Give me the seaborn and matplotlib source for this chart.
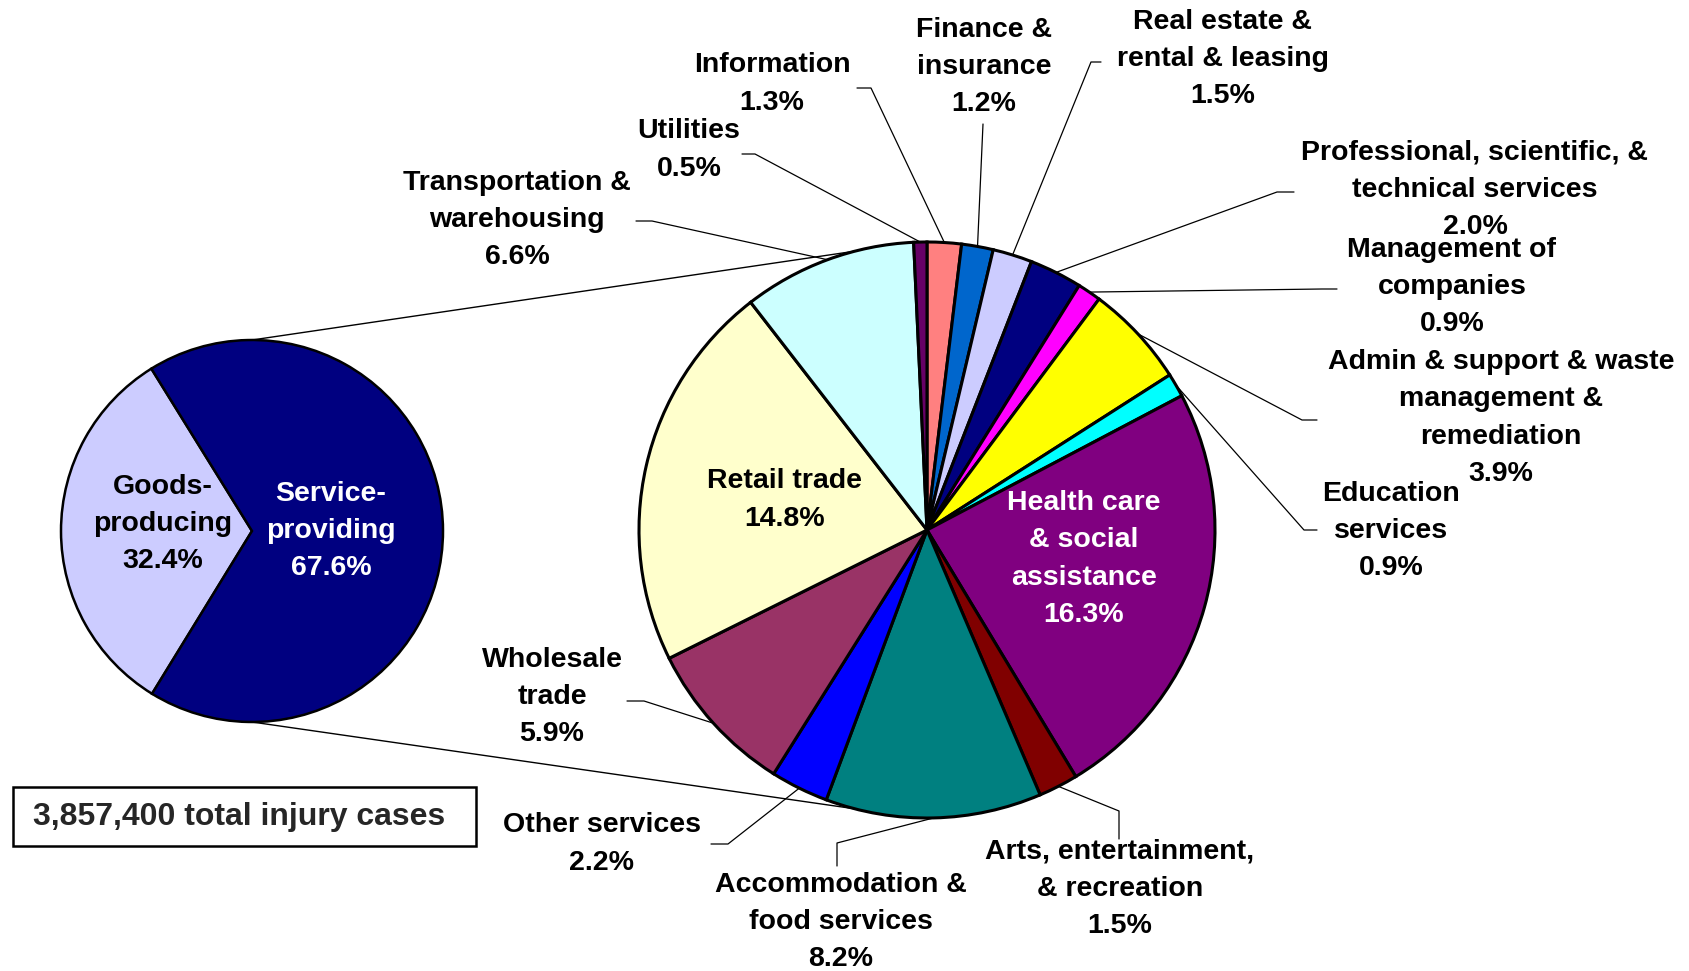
import numpy as np
import matplotlib
matplotlib.use("Agg")
import matplotlib.pyplot as plt
import seaborn as sns
from matplotlib.patches import Rectangle

sns.set_theme(style="white")
plt.rcParams['font.family'] = ['Liberation Sans', 'DejaVu Sans']
plt.rcParams['font.weight'] = 'bold'

# data: share of total injury cases (%)
sector_names = ["Goods-\nproducing", "Service-\nproviding"]
sector_values = [32.4, 67.6]

service_names = [
    "Information", "Finance &\ninsurance", "Real estate &\nrental & leasing",
    "Professional, scientific, &\ntechnical services", "Management of\ncompanies",
    "Admin & support & waste\nmanagement &\nremediation", "Education\nservices",
    "Health care\n& social\nassistance", "Arts, entertainment,\n& recreation",
    "Accommodation &\nfood services", "Other services", "Wholesale\ntrade",
    "Retail trade", "Transportation &\nwarehousing", "Utilities",
]
service_values = [1.3, 1.2, 1.5, 2.0, 0.9, 3.9, 0.9, 16.3, 1.5, 8.2, 2.2, 5.9, 14.8, 6.6, 0.5]
total_cases = "3,857,400 total injury cases"

sector_colors = ["#CCCCFF", "#000080"]
service_colors = ["#FF8080", "#0066CC", "#CCCCFF", "#000080", "#FF00FF", "#FFFF00", "#00FFFF",
                  "#800080", "#800000", "#008080", "#0000FF", "#993366", "#FFFFCC", "#CCFFFF",
                  "#660066"]

W, H = 1690, 971
def Y(y):
    return H - y

fig = plt.figure(figsize=(W / 100, H / 100), dpi=100)
ax = fig.add_axes([0, 0, 1, 1])

c1, r1 = (252, Y(531)), 191
c2, r2 = (927, Y(530)), 288

w1, _ = ax.pie(sector_values, colors=sector_colors, startangle=121.8, center=c1, radius=r1,
               wedgeprops=dict(edgecolor="black", linewidth=1.8))
w2, _ = ax.pie(service_values, colors=service_colors, startangle=90, counterclock=False,
               center=c2, radius=r2, wedgeprops=dict(edgecolor="black", linewidth=2.2))

# lines joining the two pies
for y0, ang in [(c1[1] + r1, 104.5), (c1[1] - r1, 255.5)]:
    a = np.deg2rad(ang)
    ax.plot([c1[0], c2[0] + r2 * np.cos(a)], [y0, c2[1] + r2 * np.sin(a)],
            color="black", lw=1.0, zorder=0)

fs = 20.5
ls = 1.57
ax.text(163, Y(524), sector_names[0] + "\n%.1f%%" % sector_values[0], ha="center", va="center",
        fontsize=fs, fontweight="bold", color="black", linespacing=ls)
ax.text(331, Y(531), sector_names[1] + "\n%.1f%%" % sector_values[1], ha="center", va="center",
        fontsize=fs, fontweight="bold", color="white", linespacing=ls)

# label placement: text centre, leader elbow points (pixels from top-left)
layout = {
    "Information": ((772, 84), [(871, 88), (857, 88)]),
    "Finance &\ninsurance": ((984, 67), [(983, 124)]),
    "Real estate &\nrental & leasing": ((1223, 59), [(1091, 62), (1101, 62)]),
    "Professional, scientific, &\ntechnical services": ((1475, 190), [(1277, 192), (1294, 192)]),
    "Management of\ncompanies": ((1452, 287), [(1322, 289), (1337, 289)]),
    "Admin & support & waste\nmanagement &\nremediation": ((1501, 418), [(1302, 420), (1317, 420)]),
    "Education\nservices": ((1391, 531), [(1304, 530), (1317, 530)]),
    "Health care\n& social\nassistance": ((1084, 559), None),
    "Arts, entertainment,\n& recreation": ((1120, 889), [(1119, 811), (1119, 839)]),
    "Accommodation &\nfood services": ((841, 922), [(837, 843), (837, 866)]),
    "Other services": ((602, 844), [(728, 844), (711, 844)]),
    "Wholesale\ntrade": ((552, 697), [(644, 701), (627, 701)]),
    "Retail trade": ((785, 500), None),
    "Transportation &\nwarehousing": ((517, 220), [(652, 221), (636, 221)]),
    "Utilities": ((689, 150), [(755, 154), (742, 154)]),
}

for wedge, name, val in zip(w2, service_names, service_values):
    (tx, ty), elbow = layout[name]
    col = "white" if name.startswith("Health") else "black"
    ax.text(tx, Y(ty), "%s\n%.1f%%" % (name, val), ha="center", va="center", fontsize=fs,
            fontweight="bold", color=col, linespacing=ls, zorder=5)
    if elbow:
        a = np.deg2rad((wedge.theta1 + wedge.theta2) / 2)
        xs = [c2[0] + r2 * np.cos(a)] + [p[0] for p in elbow]
        ys = [c2[1] + r2 * np.sin(a)] + [Y(p[1]) for p in elbow]
        ax.plot(xs, ys, color="black", lw=0.9, zorder=4)

ax.add_patch(Rectangle((13, Y(846)), 463, 59, facecolor="white", edgecolor="black", lw=1.8, zorder=4))
ax.text(239, Y(817), total_cases, ha="center", va="center", fontsize=23, fontweight="bold", zorder=5)

ax.set_xlim(0, W)
ax.set_ylim(0, H)
ax.set_aspect("equal")
ax.axis("off")

fig.savefig("out.png", dpi=100, facecolor="white")
